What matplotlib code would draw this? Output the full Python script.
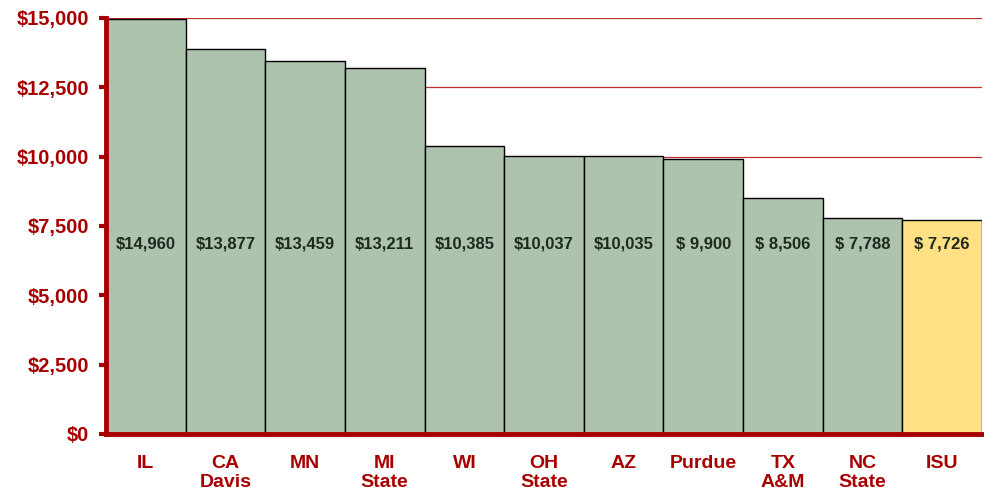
import matplotlib.pyplot as plt
from matplotlib.ticker import FuncFormatter

schools = ["IL", "CA\nDavis", "MN", "MI\nState", "WI", "OH\nState", "AZ",
           "Purdue", "TX\nA&M", "NC\nState", "ISU"]
costs = [14960, 13877, 13459, 13211, 10385, 10037, 10035, 9900, 8506, 7788, 7726]
cost_labels = ["$14,960", "$13,877", "$13,459", "$13,211", "$10,385", "$10,037",
               "$10,035", "$ 9,900", "$ 8,506", "$ 7,788", "$ 7,726"]
y_ticks = [0, 2500, 5000, 7500, 10000, 12500, 15000]

red = "#a80000"
green = "#adc3ad"
yellow = "#ffe083"

plt.rcParams["font.family"] = ["Liberation Sans", "DejaVu Sans"]

fig = plt.figure(figsize=(9.84, 4.94), dpi=100)
ax = fig.add_axes([0.1077, 0.1215, 0.8903, 0.8421])

colors = [green] * (len(costs) - 1) + [yellow]
pos = range(len(costs))
ax.bar(pos, costs, width=1.0, color=colors, edgecolor="black", linewidth=1,
       zorder=3)

# value labels across the middle of the bars
for x, lab in zip(pos, cost_labels):
    ax.text(x, 6850, lab, ha="center", va="center", fontsize=12,
            fontweight="bold", color="#1e2a1e", zorder=4)

ax.set_xlim(-0.5, len(costs) - 0.5)
ax.set_ylim(0, 15000)
ax.set_yticks(y_ticks)
ax.yaxis.set_major_formatter(FuncFormatter(lambda v, p: "${:,.0f}".format(v)))
ax.set_xticks(list(pos))
ax.set_xticklabels(schools)

ax.grid(axis="y", color="#c03030", linewidth=0.9, zorder=0)
ax.set_axisbelow(True)

for s in ["top", "right"]:
    ax.spines[s].set_visible(False)
for s in ["left", "bottom"]:
    ax.spines[s].set_color(red)
    ax.spines[s].set_linewidth(3.5)
    ax.spines[s].set_zorder(5)

ax.tick_params(axis="y", colors=red, length=5, width=3, labelsize=14.5,
               pad=7)
ax.tick_params(axis="x", colors=red, length=0, labelsize=14, pad=15)
for t in ax.get_xticklabels() + ax.get_yticklabels():
    t.set_fontweight("bold")
    t.set_linespacing(1.15)

fig.savefig("out.png", dpi=100)
